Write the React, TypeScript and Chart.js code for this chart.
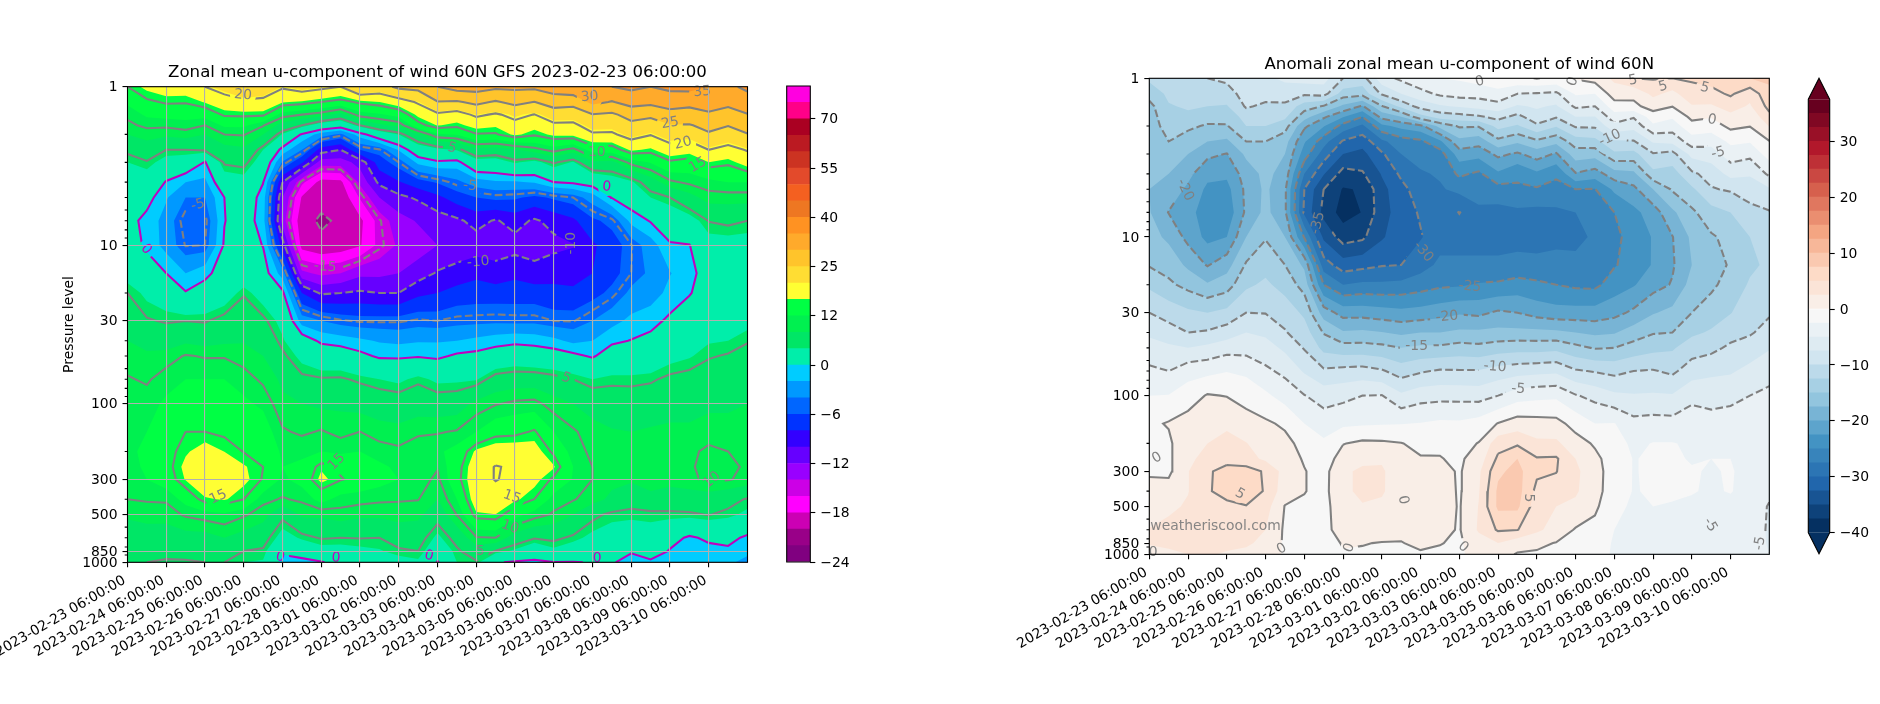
import React, { useEffect, useRef } from "react";
import Chart from "chart.js/auto";

// time axis, in days since the first forecast step (one column every 12 h)
const timeSteps = [0, 0.5, 1, 1.5, 2, 2.5, 3, 3.5, 4, 4.5, 5, 5.5, 6, 6.5, 7, 7.5, 8, 8.5, 9, 9.5, 10, 10.5, 11, 11.5, 12, 12.5, 13, 13.5, 14, 14.5, 15, 15.5, 16];
const timeTicks = [0, 1, 2, 3, 4, 5, 6, 7, 8, 9, 10, 11, 12, 13, 14, 15];
const timeLabels = ["2023-02-23 06:00:00", "2023-02-24 06:00:00", "2023-02-25 06:00:00", "2023-02-26 06:00:00", "2023-02-27 06:00:00", "2023-02-28 06:00:00", "2023-03-01 06:00:00", "2023-03-02 06:00:00", "2023-03-03 06:00:00", "2023-03-04 06:00:00", "2023-03-05 06:00:00", "2023-03-06 06:00:00", "2023-03-07 06:00:00", "2023-03-08 06:00:00", "2023-03-09 06:00:00", "2023-03-10 06:00:00"];

const pressureLevels = [1, 1.25, 1.5, 1.75, 2, 2.5, 3, 4, 5, 7, 10, 15, 20, 30, 40, 50, 70, 100, 150, 200, 250, 300, 400, 500, 700, 850, 1000];
const pressureTicks = [1, 10, 30, 100, 300, 500, 850, 1000];
const pressureMinorTicks = [2, 3, 4, 5, 6, 7, 8, 9, 20, 40, 50, 60, 70, 80, 90, 200, 400, 600, 700, 800, 900];

// u wind: one row per time step, top (1 hPa) to bottom (1000 hPa)
const zonalWind = [
  [15, 12.5, 10.5, 9.5, 8, 5.5, 4, 2.5, 2, 1, 1.5, 3, 5, 6.5, 8, 9, 10.2, 11, 11.5, 11.5, 11, 11, 10, 8.5, 6, 5.5, 5],
  [17, 14.5, 12.5, 10.5, 9, 6.5, 4.8, 2.5, 1, -0.8, -0.5, 1.5, 3.5, 5.2, 7, 8.5, 9.7, 11, 12, 12.5, 12.5, 12, 10.2, 9, 6.5, 5.5, 5],
  [18, 15.3, 13, 10.5, 8.5, 5, 3, -0.2, -1.8, -2.8, -2.8, 0, 2.5, 4.8, 6.5, 9, 11, 12.5, 13.5, 14, 14, 13.5, 10.3, 9, 6.5, 5.5, 4.8],
  [18, 15.2, 13, 11, 9, 5, 2.5, -2, -4, -5.8, -5.1, -2, 0.2, 5, 7.5, 10.2, 12, 13.5, 15, 16, 17, 16.5, 13, 10.3, 7, 5.7, 4.8],
  [20, 16.5, 13, 10, 8, 5.3, -0.2, -2.5, -4, -5.5, -5, -0.8, 1.5, 4.8, 7, 9.8, 12, 14, 15, 17.5, 19, 19, 16, 11, 7, 6, 5],
  [22, 18, 15.4, 12.5, 10, 7, 5.3, 2.5, 0, -0.1, 0.3, 1.5, 2.5, 5.8, 7.5, 9.8, 12, 13.8, 14.5, 16.3, 18, 18.5, 16.6, 11.5, 8, 6, 5],
  [25, 19, 15.5, 12.5, 10.2, 7.5, 5.7, 3, 2, 1.5, 1.5, 2, 4.8, 6.5, 7.8, 9, 11, 12.5, 14, 14.9, 16.6, 17, 15, 10.3, 7, 5, 4],
  [24, 18.5, 15.5, 10.2, 8, 4, 2.5, 0.1, -1, -1.2, -0.1, 1.2, 2.8, 5.5, 7, 8, 9.5, 11.5, 13.5, 14.5, 15, 14.8, 10.6, 9, 6, 4.7, 3.8],
  [20.5, 16.5, 11, 7, 3.8, -0.8, -4.2, -10, -12, -13, -9, -3, 0.5, 3.2, 4.3, 5.5, 7.5, 8.5, 10.3, 11.5, 12, 11.5, 9.8, 5.6, 3, 0.5, -1],
  [22, 16, 10, 5, -0.3, -4, -7.7, -15.5, -18.2, -19.5, -18.8, -13.5, -8, -3, 1.5, 3.3, 5.5, 8, 9.6, 11.5, 12.5, 13, 10.4, 8.5, 4.3, 2, -1.2],
  [21, 15, 9, 2.5, -3, -9, -13, -18.8, -19.6, -20.2, -19.7, -14.5, -10.3, -4, -0.5, 2, 5.2, 7.5, 10.2, 12, 16, 17, 13, 8.5, 5.2, 3, -0.2],
  [20, 14, 7, 1.5, -4.5, -10, -13, -18.5, -19.6, -19.8, -19.3, -14, -10, -4.8, -1, 1.8, 5.3, 7.5, 9.3, 11.5, 14.5, 15.2, 11, 9.2, 5, 3, 1],
  [25, 15.5, 11, 5, -1, -6, -11.2, -13.5, -15.8, -18.5, -18.2, -12.5, -9.7, -5.2, -1.6, 0.7, 4.6, 7, 10, 12, 14.6, 14, 10.8, 8.5, 5.1, 3.4, 1.3],
  [23, 16.3, 11.7, 7.5, 2, -5.2, -7, -9.5, -12, -15.2, -15.4, -12.5, -10, -5.2, -2.2, -0.4, 4, 6.5, 9, 11, 12.5, 13, 10.4, 8.5, 5, 3.8, 2],
  [26, 18, 13, 8.7, 4, -1.8, -5, -8.2, -10.5, -12.8, -13.7, -12, -10, -5.2, -2.5, -0.4, 3.5, 6.3, 8.7, 10.5, 11.5, 12, 10.2, 9, 6, 4.7, 3],
  [26.5, 20.5, 17, 14, 7.7, 2, -1.5, -6.8, -9.7, -11.8, -13, -11, -8.5, -4.8, -2.2, -0.2, 4.6, 6.5, 9.7, 11, 11.5, 11, 10.1, 8.7, 6, 5, 3.6],
  [30, 24.8, 19.3, 16.5, 11.6, 3.3, -0.4, -5.8, -8.5, -11, -12, -9.8, -8, -5, -2.2, -0.5, 3.5, 6.3, 9.8, 11.5, 10.2, 9.5, 8, 6, 3.5, 2, -0.3],
  [32, 24.5, 18.2, 15.7, 12.2, 4.2, -0.8, -4.5, -7, -10.4, -11.2, -9.3, -7.2, -4.6, -2, 0.4, 3.6, 6.5, 10.2, 13, 14, 14.2, 12, 10.1, 5.9, 4.6, 4],
  [32, 26.1, 20.8, 17.3, 14.8, 7.3, 2.8, -3, -6, -9.3, -11, -8.5, -7, -4.5, -1.5, 0.7, 3.8, 8.7, 12, 16.8, 18, 18.2, 18, 16, 9.8, 6.5, 4.7],
  [31, 24.5, 19.5, 16.7, 14.7, 6.7, 2.7, -2.3, -5.5, -10.2, -10.9, -9.3, -7, -4.4, -1, 1.5, 6, 9.8, 14, 18, 20.2, 20.2, 18, 16.3, 10, 4.9, 0.3],
  [31, 26.3, 21.2, 18.8, 16.8, 7.8, 4.3, -2.3, -5.7, -9.2, -10.8, -8.5, -7, -4.5, -0.6, 2, 6.5, 10.5, 14.3, 18, 19.5, 19, 16.8, 13, 6.5, 3.6, -0.4],
  [31, 24.9, 19.9, 17.2, 15.4, 9.2, 3.2, -1.8, -6.5, -10.3, -10.9, -9.3, -7, -4.5, -0.8, 1.6, 6.5, 10.7, 15.3, 17.5, 18.2, 17.2, 15, 11, 5.2, 2, -0.6],
  [32.5, 27.3, 22.3, 19.3, 16.8, 10.8, 5.3, 0, -5.7, -9.3, -10.6, -8.6, -7.5, -5, -1.5, 1.4, 5.8, 9, 12, 14.5, 16.6, 14.5, 11, 9.7, 5.5, 3.5, -0.1],
  [34, 26.7, 22.2, 19.2, 17, 9.2, 3.8, 0.4, -5, -8.4, -10.1, -9, -7.5, -5.1, -2.5, 0.6, 5, 8, 10.3, 11, 12, 11.8, 10.2, 8, 4.6, 2.6, -0.1],
  [34, 31.3, 24.8, 21.8, 19.5, 13.3, 7.5, 1.2, -3, -6.4, -8.3, -8, -6.7, -4, -2, -0.3, 4, 6.8, 9, 9.5, 10, 10, 9, 5.6, 3.4, 2.2, 0.1],
  [35, 29.7, 24.2, 21.7, 19.4, 13.5, 7.2, 2.5, 0.1, -5.4, -7, -6.7, -5.5, -2.7, -0.5, 1.5, 4.5, 6.4, 8.2, 8.8, 9, 8.7, 7.4, 4.5, 3, 1.8, 0.2],
  [36, 31.8, 26.8, 23.8, 21.6, 16.8, 10.8, 3.6, 1.6, -1.4, -5.1, -5, -3.5, -1.5, 0.1, 1.6, 4.5, 6.2, 8, 8.5, 8.6, 8.4, 6, 4.4, 2.6, 0.2, -0.8],
  [35, 31.2, 26, 22.9, 20.2, 15.9, 12.2, 6.5, 4, 0.2, -3, -3.6, -3, -0.8, 0.7, 2, 4.7, 6.5, 8.3, 9, 10, 9.8, 6.7, 4.5, 3, 1.5, -0.5],
  [36, 32.5, 28.1, 24.8, 22.3, 18.3, 14.5, 9.5, 5, 2, -0.3, -2.1, -1.4, 0.5, 1.7, 3.2, 5.5, 7, 8.5, 9, 9.5, 9.2, 6, 4.7, 1, -0.2, -0.8],
  [36.5, 31.7, 27.7, 24.7, 22, 17.5, 13.8, 10.5, 7, 2.9, -0.1, -0.9, -0.2, 1.8, 3, 3.8, 5.8, 7, 8.5, 9.5, 9.6, 9.5, 6.5, 4.7, -0.4, -1.2, -1.8],
  [35, 32.3, 29.3, 26.3, 24.5, 20, 16.3, 11.3, 9, 5.1, 3, 1.5, 1.5, 2.5, 3.8, 4.8, 6.3, 7.5, 9, 10.5, 11, 10.5, 6.5, 5.1, 0.5, -0.8, -1.6],
  [34, 31.2, 28.2, 25.2, 22.9, 18.7, 15.5, 12, 9, 5.5, 3, 1.8, 1.7, 3, 4, 5.2, 6.5, 7.5, 9, 10, 10.6, 10.2, 5.8, 4.5, 0.8, -0.5, -1.7],
  [36, 32.8, 29.8, 26.8, 24.8, 20.3, 17.6, 12, 9, 5, 3, 2, 2.2, 3.3, 4.8, 6, 7, 8, 9, 9.5, 9.6, 9.3, 4.8, 3.5, -0.5, -1.6, -2.5],
];

// anomaly, same layout
const anomalyWind = [
  [-12, -14, -15.8, -16.3, -16.6, -17, -17.2, -17.4, -17.5, -17.3, -16.6, -15.2, -13, -10, -8, -6.5, -4.5, -2.5, -0.5, -0.3, -0.3, -0.2, 0.5, 1.2, 2.6, 2.8, 1],
  [-11.5, -12, -12.7, -13.2, -13.7, -15, -16, -17.5, -18.5, -20.1, -18, -16, -14.5, -11, -9, -7, -5, -2.4, 0.2, -0.5, -0.5, -0.5, 1, 2, 3.2, 3, 2],
  [-11, -11.5, -12.2, -13, -14.5, -16.2, -17.5, -19.3, -20.5, -21.5, -20.8, -18, -15.8, -12, -10, -7.5, -3.5, -1.2, 1, 2, 2.3, 2.4, 2.4, 2.8, 3.5, 3.2, 2.5],
  [-10, -11, -12.5, -14, -15.3, -17.5, -19.4, -21.8, -23, -24, -23.2, -20.2, -17.2, -12.5, -9.7, -6.9, -3.2, 0.2, 2, 2.5, 2.8, 4.6, 4.7, 4, 3.8, 3.5, 2.8],
  [-9.5, -11, -12.7, -14.2, -15.2, -18, -20.1, -22, -23.3, -24.2, -22.5, -18.5, -16.2, -11.8, -8.8, -6, -2.6, -0.1, 2.2, 3, 4, 6, 6, 4.3, 3.7, 3.2, 2.2],
  [-8, -9, -9.7, -11.5, -12.5, -15, -17, -18.8, -19.4, -19.5, -17.5, -14.7, -13, -10, -7.5, -6, -3, -0.9, 1, 2.6, 3.5, 6, 6.2, 4.9, 3.5, 2.8, 2],
  [-8, -9, -10.5, -11.5, -12.5, -15, -15.8, -16.8, -17, -16.8, -15.2, -13.4, -12, -10.1, -8, -6.5, -4.5, -2, 0.4, 1.3, 2, 4.7, 4.8, 3.5, 2.5, 2, 1.8],
  [-7, -8.8, -10.5, -12, -14, -16.5, -17.5, -18.5, -19.5, -19.5, -17.5, -15, -13.5, -11, -9.8, -8, -5.6, -3.5, -0.4, 0.7, 1, 1.5, 1, -0.1, -0.4, -0.4, -0.4],
  [-6.5, -9.5, -13.8, -16.5, -19.5, -22.2, -23.7, -27.5, -30, -30.5, -25.2, -18, -16, -13, -11.3, -10.2, -7.8, -4.9, -2.5, -0.8, -0.2, 0.1, 0.1, -0.4, -0.5, -0.5, -0.5],
  [-6.5, -9, -15.2, -19.6, -22.3, -26.5, -28.7, -32.3, -35, -35.8, -33, -28.8, -25, -18.7, -15.2, -13.2, -9.6, -6, -3.8, -2, -1.2, -0.8, -0.8, -0.8, -0.7, -0.6, -0.6],
  [-10, -13.7, -18, -22.3, -26, -30.3, -32.5, -36, -37.7, -38.5, -36.2, -31.3, -27.5, -21, -17.2, -14, -9.2, -5.7, -3, -0.1, 1, 2, 2.2, 1.5, 1, 0.1, -0.1],
  [-11, -14, -20.3, -25, -28, -31.5, -33.2, -35.3, -37.3, -37.4, -35.5, -30.8, -27, -21, -17, -14, -9, -5, -2.8, 0.5, 1.8, 3, 2.8, 2.4, 0.5, 0.1, -0.3],
  [-6, -9.6, -15.2, -19.2, -23.2, -28, -30.4, -32.3, -33.3, -33.5, -32.8, -30.2, -27, -21.4, -17.4, -14.3, -9.7, -4.9, -2.7, 0.4, 2, 3, 2.8, 2, 1.2, -0.1, -0.3],
  [-4.5, -7.5, -11.8, -17.5, -21.7, -26.2, -27.5, -29.5, -30.8, -31.3, -31, -30, -26.8, -21.8, -18, -15, -11.2, -7, -2.6, 0.1, 0.5, 0.2, 1, 0.1, 0.6, -0.1, -0.3],
  [-3, -5.9, -9, -13.5, -20.7, -25.5, -26.5, -27.8, -28.7, -29.7, -30.2, -28.5, -26.2, -21.5, -17.5, -14.5, -10.3, -6, -2.4, -0.7, 0.2, 1.5, 1.5, 1.4, 1.4, 0.5, -0.3],
  [-2.5, -4.5, -7.8, -11.5, -16.7, -23, -26.2, -27.2, -27.8, -28.3, -28.5, -27, -25.5, -21, -17.5, -14.5, -9.7, -5.8, -2, -0.4, 0.1, 1, 1.4, 1.3, 0.7, 0.1, -0.4],
  [-2.2, -4, -7.2, -11, -14.7, -18.2, -21.2, -24.5, -26.8, -30.1, -28.5, -27, -25.3, -20.3, -17, -14, -9.8, -5.8, -2.1, -0.9, -0.4, -0.3, -0.3, -0.2, -0.2, -0.4, -0.5],
  [-1.5, -4, -6.6, -10.4, -14.8, -19, -21.6, -25.5, -26.5, -28, -28.5, -27, -24.8, -20.6, -17, -14.3, -9.8, -6, -1.5, 0.1, 1.1, 2, 2.3, 2.6, 2.8, 1.5, 1.2],
  [-1, -3.2, -6, -9.2, -11.7, -15.7, -19.4, -22.9, -26, -28.3, -28.5, -27, -24.6, -19.6, -16.8, -13.7, -9, -5, 0.1, 4, 5.5, 7, 8, 8, 5.3, 2.5, 1],
  [-0.5, -5, -7.8, -10.8, -12.8, -17.1, -20.4, -24.6, -25.3, -28, -28.3, -26.8, -24, -20, -16.8, -13.4, -8.5, -3.6, 1.2, 4.6, 7.5, 8.3, 8.5, 8, 5.1, 1, -0.2],
  [0.1, -5.2, -7.2, -8.4, -10.5, -15.5, -18.8, -23, -25.3, -28.2, -28.5, -26.8, -24.5, -21, -16.8, -13.5, -8.2, -3.2, 1, 3, 5.2, 5.5, 4.3, 3.5, 3, 0.5, -0.3],
  [-0.5, -5.5, -7.8, -9.8, -12.3, -16.8, -20.3, -24.6, -25.7, -28, -28.3, -26.5, -25, -21.5, -17, -13.2, -8, -3, 0.8, 3, 5.3, 5.1, 3.8, 2.5, 1.5, -0.1, -0.4],
  [0.2, -2.2, -4.5, -7.5, -9.7, -13.7, -16.2, -20.2, -25, -27.5, -28, -27, -25.5, -21.5, -17.5, -14.3, -9.7, -4.8, -0.9, 1, 2.5, 3, 2.8, 2, -0.2, -0.5, -0.6],
  [1, -2.5, -5, -7.6, -9.6, -13.3, -16.5, -21.2, -25.1, -26.5, -27.2, -26.5, -25.6, -21.5, -18, -15.2, -10.2, -5.8, -2.5, -0.3, 0.6, 1, 1, 0.5, -0.8, -1, -1],
  [3, 1.3, -1.2, -3.6, -5.7, -10.4, -13, -18.6, -22, -25, -25.5, -25.2, -23.8, -20.8, -17.7, -15, -10.7, -7, -2.4, -1.5, -1.2, -1.3, -1.5, -2, -2.5, -2.8, -3],
  [5, 0.7, -0.6, -4.8, -6.6, -10.2, -13.3, -18.1, -20.6, -23.2, -24.2, -24, -22.7, -19.5, -16.3, -14, -10, -7.3, -4.2, -3, -2.6, -2.6, -2.6, -2.8, -3, -3, -3.2],
  [5.2, 3.1, 1, -1.2, -3, -7.2, -10.2, -13.2, -17.5, -21.3, -22.3, -22.3, -21, -17.7, -15.2, -13.2, -9.8, -7.2, -4, -2.4, -2.2, -2.2, -2.3, -2.5, -3.2, -3.2, -3.4],
  [5, 1.8, 0.1, -2.2, -3.7, -6.8, -10.8, -13.6, -14.7, -18, -20.1, -20.3, -19.8, -16.8, -15, -12.8, -10.5, -7.3, -4.1, -2.4, -2.3, -2.3, -2.3, -2.6, -3, -3.1, -3.3],
  [5.3, 4.1, 2.3, 0.6, -0.9, -3.7, -6.7, -10.5, -13, -15.5, -17, -17.5, -16.5, -15, -13, -11.2, -8.7, -5.6, -3.8, -2.8, -2.6, -2.4, -2.4, -2.8, -3.4, -3.4, -3.6],
  [6, 4.2, 2.2, 0.2, -1.3, -4.1, -6.2, -9, -10.2, -13.5, -15.3, -15.8, -15.5, -13.8, -12.2, -10.7, -8, -6, -4, -2.9, -2.5, -2.6, -2.7, -3.4, -5.2, -3.5, -3.7],
  [6.5, 5.4, 3.5, 1.8, 0.6, -2, -3.7, -6.7, -9.7, -12.5, -14.3, -14.8, -14, -12.6, -11, -9.5, -7.8, -5.7, -3.8, -2.9, -2.5, -2.4, -2.4, -3, -3.2, -3.3, -3.5],
  [7.5, 3.4, 2.2, 0.7, 0.1, -2.3, -4.3, -7.3, -8.5, -11, -12.5, -13, -12.2, -11.2, -10.3, -8.8, -6.8, -5, -3.7, -3.2, -2.8, -2.9, -3.2, -3.6, -3.8, -4, -4],
  [8, 6.8, 5.8, 4.3, 2.6, -0.1, -1.4, -4.5, -7.8, -10.2, -11.5, -12, -11.5, -10.3, -9, -7.7, -5.8, -4.5, -3.8, -3.5, -3.5, -3.8, -4.5, -5.2, -5.3, -5.2, -5],
];

// filled levels (lower bound of each band, last entry closes the colour bar)
const windLevels = [-24, -22, -20, -18, -16, -14, -12, -10, -8, -6, -4, -2, 0, 4, 8, 12, 16.33, 20.67, 25, 30, 35, 40, 45, 50, 55, 60, 65, 70, 75, 80];
const windColors = ["#800080", "#990088", "#cc00b4", "#ff00ff", "#cc00e6", "#9900ff", "#6600ff", "#3300ff", "#0033ff", "#0066ff", "#0099ff", "#00ccff", "#00eeaa", "#00e666", "#00f050", "#00ff44", "#ffff33", "#ffdd33", "#ffc42b", "#ffaa2b", "#ff9222", "#ee7722", "#f46020", "#e34a2b", "#cc3322", "#bb1a22", "#aa0022", "#ff0088", "#ff00e0"];
const windBarTicks = [0, 3, 6, 9, 12, 15, 18, 21, 24, 27];
const windBarLabels = ["\u221224", "\u221218", "\u221212", "\u22126", "0", "12", "25", "40", "55", "70"];

const anomalyLevels = [-40, -37.5, -35, -32.5, -30, -27.5, -25, -22.5, -20, -17.5, -15, -12.5, -10, -7.5, -5, -2.5, 0, 2.5, 5, 7.5, 10, 12.5, 15, 17.5, 20, 22.5, 25, 27.5, 30, 32.5, 35, 37.5];
const anomalyBarTicks = [-40, -30, -20, -10, 0, 10, 20, 30];

const windContours = [-20, -15, -10, -5, 0, 5, 10, 15, 20, 25, 30, 35];
const anomalyContours = [-35, -30, -25, -20, -15, -10, -5, 0, 5];

// inline contour labels: day, pressure, text, rotation in degrees
const windLabels: [number, number, string, number][] = [
  [2.98, 1.13, "20", 5], [1.82, 5.57, "-5", -15], [0.48, 10.6, "0", 50], [5.1, 13.7, "-15", 5],
  [11.93, 1.16, "30", -5], [14.83, 1.08, "35", -5], [14, 1.7, "25", -10], [14.34, 2.27, "20", -15],
  [14.72, 3.12, "15", -30], [12.11, 2.58, "10", 0], [8.37, 2.44, "5", 15], [12.37, 4.3, "0", 5],
  [8.84, 4.23, "-5", 5], [9.05, 12.8, "-10", -5], [11.45, 9.7, "-10", -90], [2.34, 388, "15", -25],
  [5.4, 233, "15", -45], [3.94, 927, "0", 15], [5.38, 940, "0", 5], [7.78, 912, "0", 15],
  [11.32, 69, "5", 20], [9.92, 388, "15", 20], [9.87, 600, "10", 20], [9.1, 851, "5", 0],
  [15.08, 303, "10", -40], [12.12, 940, "0", 0],
];
const anomalyLabels: [number, number, string, number][] = [
  [0.92, 5.06, "-20", 65], [4.35, 8.17, "-35", -75], [7.07, 12.4, "-30", 50], [8.27, 20.6, "-25", 5],
  [7.68, 31.9, "-20", -5], [6.9, 49, "-15", 0], [11.89, 2.38, "-10", -25], [14.68, 2.96, "-5", -15],
  [14.52, 1.83, "0", 10], [14.33, 1.15, "5", 15], [13.26, 1.13, "5", -15], [12.48, 1.03, "5", -10],
  [8.53, 1.05, "0", -15], [10.93, 1.05, "0", -70], [2.34, 417, "5", 30], [0.2, 247, "0", -30],
  [3.42, 925, "0", -30], [5.16, 912, "0", -70], [8.1, 899, "0", 40], [0.1, 968, "0", 0],
  [6.55, 455, "0", 80], [9.8, 442, "5", 90], [8.92, 66, "-10", 5], [9.52, 91, "-5", 5],
  [14.47, 653, "-5", 60], [15.76, 851, "-5", -80],
];

const rdBuAnchors = ["#053061", "#2166ac", "#4393c3", "#92c5de", "#d1e5f0", "#f7f7f7", "#fddbc7", "#f4a582", "#d6604d", "#b2182b", "#67001f"];

function rdBu(t: number) {
  const pos = Math.min(t * 10, 9.999);
  const k = Math.floor(pos);
  const hex = (s: string, i: number) => parseInt(s.slice(1 + i * 2, 3 + i * 2), 16);
  const mix = (i: number) => Math.round(hex(rdBuAnchors[k], i) + (pos - k) * (hex(rdBuAnchors[k + 1], i) - hex(rdBuAnchors[k], i)));
  return `rgb(${mix(0)},${mix(1)},${mix(2)})`;
}
const anomalyColors = anomalyLevels.slice(0, -1).map((_, i) => rdBu(i / 30));

const fontFamily = "'DejaVu Sans'";
const GREY = "#808080";
const MAGENTA = "#bf00bf";

// chains the marching-squares crossings of one level into polylines, NaN breaks between them
function contourLines(columns: number[][], level: number) {
  const logP = pressureLevels.map((p) => Math.log10(p));
  const points = new Map<string, { x: number; y: number }>();
  const links = new Map<string, string[]>();
  const crossing = (key: string, i1: number, j1: number, i2: number, j2: number) => {
    const a = columns[i1][j1];
    const b = columns[i2][j2];
    if (a >= level === b >= level) return null;
    const t = (level - a) / (b - a);
    points.set(key, {
      x: timeSteps[i1] + t * (timeSteps[i2] - timeSteps[i1]),
      y: Math.pow(10, logP[j1] + t * (logP[j2] - logP[j1])),
    });
    return key;
  };
  const link = (a: string, b: string) => {
    links.set(a, [...(links.get(a) || []), b]);
    links.set(b, [...(links.get(b) || []), a]);
  };
  for (let i = 0; i < columns.length - 1; i++) {
    for (let j = 0; j < pressureLevels.length - 1; j++) {
      const hits = [
        crossing(`h${i}_${j}`, i, j, i + 1, j),
        crossing(`v${i + 1}_${j}`, i + 1, j, i + 1, j + 1),
        crossing(`h${i}_${j + 1}`, i, j + 1, i + 1, j + 1),
        crossing(`v${i}_${j}`, i, j, i, j + 1),
      ].filter(Boolean) as string[];
      if (hits.length === 2) link(hits[0], hits[1]);
      if (hits.length === 4) {
        link(hits[0], hits[1]);
        link(hits[2], hits[3]);
      }
    }
  }
  const out: { x: number; y: number }[] = [];
  const seen = new Set<string>();
  const walk = (start: string) => {
    let cur: string | undefined = start;
    while (cur && !seen.has(cur)) {
      seen.add(cur);
      out.push(points.get(cur)!);
      cur = (links.get(cur) || []).find((k) => !seen.has(k));
    }
  };
  const keys = [...links.keys()];
  // open lines first (they start on the plot edge), then closed loops
  keys.filter((k) => links.get(k)!.length === 1).forEach((k) => {
    if (seen.has(k)) return;
    walk(k);
    out.push({ x: NaN, y: NaN });
  });
  keys.forEach((k) => {
    if (seen.has(k)) return;
    walk(k);
    out.push(points.get(k)!);
    out.push({ x: NaN, y: NaN });
  });
  return out;
}

function contourPlugin(columns: number[][], levels: number[], colors: string[], labels: [number, number, string, number][], opts: { zeroColor: string; watermark?: boolean }) {
  return {
    id: "contourFill",
    beforeDatasetsDraw(chart: any) {
      const { ctx, scales } = chart;
      const xs = timeSteps.map((d) => scales.x.getPixelForValue(d));
      const ys = pressureLevels.map((p) => scales.y.getPixelForValue(p));
      ctx.save();
      colors.forEach((color, l) => {
        const level = levels[l];
        ctx.beginPath();
        for (let i = 0; i < columns.length - 1; i++) {
          for (let j = 0; j < ys.length - 1; j++) {
            const quad = [
              [xs[i], ys[j], columns[i][j]],
              [xs[i + 1], ys[j], columns[i + 1][j]],
              [xs[i + 1], ys[j + 1], columns[i + 1][j + 1]],
              [xs[i], ys[j + 1], columns[i][j + 1]],
            ];
            let started = false;
            const add = (x: number, y: number) => {
              if (started) ctx.lineTo(x, y);
              else ctx.moveTo(x, y);
              started = true;
            };
            quad.forEach((p, k) => {
              const q = quad[(k + 1) % 4];
              if (p[2] >= level) add(p[0], p[1]);
              if (p[2] >= level !== q[2] >= level) {
                const t = (level - p[2]) / (q[2] - p[2]);
                add(p[0] + t * (q[0] - p[0]), p[1] + t * (q[1] - p[1]));
              }
            });
            if (started) ctx.closePath();
          }
        }
        ctx.fillStyle = color;
        ctx.fill();
      });
      ctx.restore();
      // leave holes in the contour lines where the inline labels go
      const area = chart.chartArea;
      ctx.save();
      ctx.beginPath();
      ctx.rect(area.left, area.top, area.right - area.left, area.bottom - area.top);
      labels.forEach(([d, p, text]) => {
        const x = scales.x.getPixelForValue(d);
        const y = scales.y.getPixelForValue(p);
        ctx.moveTo(x + 5 + text.length * 4, y);
        ctx.arc(x, y, 5 + text.length * 4, 0, Math.PI * 2);
      });
      ctx.clip("evenodd");
    },
    afterDatasetsDraw(chart: any) {
      const { ctx, scales } = chart;
      ctx.restore();
      ctx.save();
      ctx.font = `13.9px ${fontFamily}`;
      ctx.textAlign = "center";
      ctx.textBaseline = "middle";
      labels.forEach(([d, p, text, angle]) => {
        ctx.save();
        ctx.translate(scales.x.getPixelForValue(d), scales.y.getPixelForValue(p));
        ctx.rotate((angle * Math.PI) / 180);
        ctx.fillStyle = text === "0" ? opts.zeroColor : GREY;
        ctx.fillText(text, 0, 0);
        ctx.restore();
      });
      if (opts.watermark) {
        ctx.fillStyle = "rgba(128,128,128,0.95)";
        ctx.textAlign = "left";
        ctx.font = `13.9px ${fontFamily}`;
        ctx.fillText("weatheriscool.com", chart.chartArea.left + 1, scales.y.getPixelForValue(670));
      }
      ctx.restore();
    },
    afterDraw(chart: any) {
      const { ctx, scales, chartArea: a } = chart;
      ctx.save();
      ctx.strokeStyle = "#000";
      ctx.lineWidth = 1.1;
      ctx.beginPath();
      pressureMinorTicks.forEach((p) => {
        const y = scales.y.getPixelForValue(p);
        ctx.moveTo(a.left, y);
        ctx.lineTo(a.left - 2.8, y);
      });
      ctx.stroke();
      ctx.strokeRect(a.left, a.top, a.right - a.left, a.bottom - a.top);
      ctx.restore();
    },
  };
}

function plotOptions(title: string, yTitle: string, grid: boolean, box: { left: number; right: number; top: number; bottom: number; titleTop: number; yWidth: number; xHeight: number }) {
  return {
    responsive: false,
    animation: false as const,
    events: [],
    layout: { padding: { left: box.left, right: box.right, top: box.titleTop, bottom: box.bottom } },
    plugins: {
      legend: { display: false },
      tooltip: { enabled: false },
      title: {
        display: true,
        text: title,
        fullSize: false,
        color: "#000",
        font: { family: fontFamily, size: 16.6, weight: "normal" as const, lineHeight: 1.2 },
        padding: { top: 0, bottom: box.top - box.titleTop - 19.92 },
      },
    },
    scales: {
      x: {
        type: "linear" as const,
        min: 0,
        max: 16,
        afterBuildTicks: (s: any) => {
          s.ticks = timeTicks.map((value) => ({ value }));
        },
        afterFit: (s: any) => {
          s.height = box.xHeight;
          s.paddingLeft = 0;
          s.paddingRight = 0;
        },
        border: { display: false },
        grid: { z: 1, color: "#b0b0b0", lineWidth: 1.1, drawOnChartArea: grid, tickColor: "#000", tickLength: 5, tickWidth: 1.1 },
        ticks: {
          z: 2,
          autoSkip: false,
          minRotation: 30,
          maxRotation: 30,
          padding: 5,
          labelOffset: -3,
          color: "#000",
          font: { family: fontFamily, size: 13.9 },
          callback: (v: any) => timeLabels[timeTicks.indexOf(v)],
        },
      },
      y: {
        type: "logarithmic" as const,
        reverse: true,
        min: 1,
        max: 1000,
        afterBuildTicks: (s: any) => {
          s.ticks = pressureTicks.map((value) => ({ value }));
        },
        afterFit: (s: any) => {
          s.width = box.yWidth;
          s.paddingTop = 0;
          s.paddingBottom = 0;
        },
        border: { display: false },
        grid: { z: 1, color: "#b0b0b0", lineWidth: 1.1, drawOnChartArea: grid, tickColor: "#000", tickLength: 5, tickWidth: 1.1 },
        title: yTitle
          ? { display: true, text: yTitle, color: "#000", font: { family: fontFamily, size: 13.9 }, padding: { top: 61, bottom: 0 } }
          : { display: false },
        ticks: {
          z: 2,
          autoSkip: false,
          padding: 5,
          labelOffset: 1,
          color: "#000",
          font: { family: fontFamily, size: 13.9 },
          callback: (v: any) => String(v),
        },
      },
    },
  };
}

function contourDatasets(columns: number[][], levels: number[], zeroColor: string) {
  return levels.map((level) => ({
    label: String(level),
    data: contourLines(columns, level),
    showLine: true,
    pointRadius: 0,
    tension: 0,
    borderWidth: 2.08,
    borderColor: level === 0 ? zeroColor : GREY,
    borderDash: level < 0 ? [7.7, 3.3] : [],
  }));
}

function colorBarOptions(box: { left: number; top: number; bottom: number; yWidth: number }, min: number, max: number, ticks: number[], label: (v: number) => string) {
  return {
    responsive: false,
    animation: false as const,
    events: [],
    layout: { padding: { left: box.left, right: 0, top: box.top, bottom: box.bottom } },
    plugins: { legend: { display: false }, tooltip: { enabled: false }, title: { display: false } },
    scales: {
      x: { display: false },
      y: {
        position: "right" as const,
        min,
        max,
        afterBuildTicks: (s: any) => {
          s.ticks = ticks.map((value) => ({ value }));
        },
        afterFit: (s: any) => {
          s.width = box.yWidth;
          s.paddingTop = 0;
          s.paddingBottom = 0;
        },
        border: { display: false },
        grid: { drawOnChartArea: false, tickColor: "#000", tickLength: 5, tickWidth: 1.1 },
        ticks: { autoSkip: false, padding: 5, labelOffset: 1, color: "#000", font: { family: fontFamily, size: 13.9 }, callback: (v: any) => label(v) },
      },
    },
  };
}

function colorBarDatasets(colors: string[], edges: number[]) {
  return colors.map((color, i) => ({
    data: [[edges[i], edges[i + 1]]],
    backgroundColor: color,
    borderWidth: 0,
    grouped: false,
    barPercentage: 1,
    categoryPercentage: 1,
  }));
}

const barOutline = (extend: number) => ({
  id: "barOutline",
  afterDraw(chart: any) {
    const { ctx, chartArea: a } = chart;
    const mid = (a.left + a.right) / 2;
    ctx.save();
    if (extend) {
      ctx.fillStyle = rdBu(1);
      ctx.beginPath();
      ctx.moveTo(a.left, a.top);
      ctx.lineTo(mid, a.top - extend);
      ctx.lineTo(a.right, a.top);
      ctx.closePath();
      ctx.fill();
      ctx.fillStyle = rdBu(0);
      ctx.beginPath();
      ctx.moveTo(a.left, a.bottom);
      ctx.lineTo(mid, a.bottom + extend);
      ctx.lineTo(a.right, a.bottom);
      ctx.closePath();
      ctx.fill();
    }
    ctx.strokeStyle = "#000";
    ctx.lineWidth = 1.1;
    ctx.beginPath();
    ctx.moveTo(a.left, a.top);
    if (extend) ctx.lineTo(mid, a.top - extend);
    ctx.lineTo(a.right, a.top);
    ctx.lineTo(a.right, a.bottom);
    if (extend) ctx.lineTo(mid, a.bottom + extend);
    ctx.lineTo(a.left, a.bottom);
    ctx.closePath();
    ctx.stroke();
    ctx.restore();
  },
});

const App = () => {
  const leftRef = useRef<HTMLCanvasElement | null>(null);
  const rightRef = useRef<HTMLCanvasElement | null>(null);
  const leftBarRef = useRef<HTMLCanvasElement | null>(null);
  const rightBarRef = useRef<HTMLCanvasElement | null>(null);

  useEffect(() => {
    const charts: Chart[] = [];

    charts.push(
      new Chart(leftRef.current!, {
        type: "scatter",
        data: { datasets: contourDatasets(zonalWind, windContours, MAGENTA) as any },
        options: plotOptions("Zonal mean u-component of wind 60N GFS 2023-02-23 06:00:00", "Pressure level", true, {
          left: 0, right: 32.5, top: 86.7, bottom: 0, titleTop: 63, yWidth: 127.5, xHeight: 141.7,
        }) as any,
        plugins: [contourPlugin(zonalWind, windLevels, windColors, windLabels, { zeroColor: MAGENTA })],
      })
    );

    charts.push(
      new Chart(rightRef.current!, {
        type: "scatter",
        data: { datasets: contourDatasets(anomalyWind, anomalyContours, GREY) as any },
        options: plotOptions("Anomali zonal mean u-component of wind 60N", "", false, {
          left: 0, right: 10.7, top: 78.3, bottom: 0, titleTop: 54.6, yWidth: 269.3, xHeight: 149.7,
        }) as any,
        plugins: [contourPlugin(anomalyWind, anomalyLevels, anomalyColors, anomalyLabels, { zeroColor: GREY, watermark: true })],
      })
    );

    const bandEdges = windLevels.map((_, i) => i);
    charts.push(
      new Chart(leftBarRef.current!, {
        type: "bar",
        data: { labels: ["wind"], datasets: colorBarDatasets(windColors, bandEdges) as any },
        options: colorBarOptions({ left: 16.7, top: 86, bottom: 142, yWidth: 69.7 }, 0, 29, windBarTicks, (v) => windBarLabels[windBarTicks.indexOf(v)]) as any,
        plugins: [barOutline(0)],
      })
    );

    charts.push(
      new Chart(rightBarRef.current!, {
        type: "bar",
        data: { labels: ["anomaly"], datasets: colorBarDatasets(anomalyColors, anomalyLevels) as any },
        options: colorBarOptions({ left: 18.3, top: 99.3, bottom: 171.3, yWidth: 50.3 }, -40, 37.5, anomalyBarTicks, (v) => String(v).replace("-", "\u2212")) as any,
        plugins: [barOutline(21)],
      })
    );

    return () => {
      charts.forEach((c) => c.destroy());
    };
  }, []);

  const at = (left: number): React.CSSProperties => ({ position: "absolute", left, top: 0 });

  return (
    <div style={{ position: "absolute", left: 0, top: 0, width: 1880, height: 704, overflow: "hidden", background: "#fff" }}>
      <canvas ref={leftRef} width={780} height={704} style={at(0)}></canvas>
      <canvas ref={leftBarRef} width={110} height={704} style={at(770)}></canvas>
      <canvas ref={rightRef} width={900} height={704} style={at(880)}></canvas>
      <canvas ref={rightBarRef} width={90} height={704} style={at(1790)}></canvas>
    </div>
  );
};

export default App;
